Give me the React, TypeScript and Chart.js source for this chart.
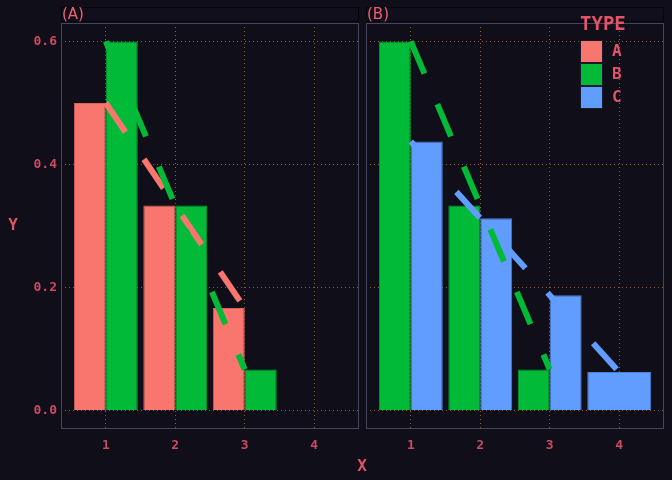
import React, { useEffect, useRef } from 'react';
import { Chart, registerables } from 'chart.js';

Chart.register(...registerables);

// ---- data ----
const X_VALUES = [1, 2, 3, 4];
const X_TICKS = [1, 2, 3, 4];
const Y_TICKS = [0, 0.2, 0.4, 0.6];
const TYPES = ['A', 'B', 'C'];
const TYPE_COLORS = ['#F8766D', '#00BA38', '#619CFF'];
const TYPE_EDGES = ['#d8645c', '#02a232', '#4c7fd6'];

const PANEL_A_TYPE_A = [0.5, 0.3333, 0.1667];
const PANEL_A_TYPE_B = [0.6, 0.3333, 0.0667];
const PANEL_B_TYPE_B = [0.6, 0.3333, 0.0667];
const PANEL_B_TYPE_C = [0.4375, 0.3125, 0.1875, 0.0625];

const PANELS = [
  { label: '(A)', series: [{ type: 'A', values: PANEL_A_TYPE_A }, { type: 'B', values: PANEL_A_TYPE_B }] },
  { label: '(B)', series: [{ type: 'B', values: PANEL_B_TYPE_B }, { type: 'C', values: PANEL_B_TYPE_C }] },
];

// ---- style ----
const BG = '#0f0e19';
const GRID = '#8a5a30';
const BORDER = '#46455f';
const TICK_COLOR = '#cc4a60';
const TITLE_COLOR = '#e25468';
const STRIP_COLOR = '#f06070';
const MONO = 'DejaVu Sans Mono';

function buildDatasets(series: { type: string; values: number[] }[]) {
  const lines: any[] = [];
  const bars: any[] = [];
  series.forEach((s) => {
    const ti = TYPES.indexOf(s.type);
    const linePts = s.values.map((v, i) => ({ x: X_VALUES[i], y: v }));
    const barPts = X_VALUES.map((x, i) => ({ x, y: i < s.values.length ? s.values[i] : null }));
    lines.push({
      type: 'line',
      label: s.type + ' line',
      data: linePts,
      borderColor: TYPE_COLORS[ti],
      borderWidth: 6,
      borderDash: [35, 33],
      borderCapStyle: 'butt',
      pointRadius: 0,
      fill: false,
      tension: 0,
      order: 2 - ti,
    });
    bars.push({
      type: 'bar',
      label: s.type,
      data: barPts,
      backgroundColor: TYPE_COLORS[ti],
      borderColor: TYPE_EDGES[ti],
      borderWidth: 1,
      categoryPercentage: 0.92,
      barPercentage: 1,
      skipNull: true,
      grouped: true,
      order: 10 + ti,
    });
  });
  return [...lines, ...bars];
}

function makeConfig(panelIndex: number) {
  const panel = PANELS[panelIndex];
  const isFirst = panelIndex === 0;
  const padding = isFirst
    ? { left: 0, top: 23, right: 672 - 359, bottom: 0 }
    : { left: 366, top: 23, right: 8, bottom: 0 };

  const decor = {
    id: 'decor' + panelIndex,
    afterDraw(chart: any) {
      const { ctx, chartArea } = chart;
      const { left, right, top, bottom } = chartArea;
      ctx.save();
      // panel border
      ctx.strokeStyle = BORDER;
      ctx.lineWidth = 1;
      ctx.setLineDash([]);
      ctx.strokeRect(left + 0.5, top + 0.5, right - left - 1, bottom - top - 1);
      // strip
      ctx.fillStyle = '#100f1b';
      ctx.fillRect(left, 7, right - left, 15);
      ctx.strokeStyle = '#05050a';
      ctx.strokeRect(left + 0.5, 7.5, right - left - 1, 14);
      ctx.fillStyle = STRIP_COLOR;
      ctx.font = '15px "DejaVu Sans"';
      ctx.textAlign = 'left';
      ctx.textBaseline = 'middle';
      ctx.fillText(panel.label, left + 1, 15);

      if (isFirst) {
        ctx.fillStyle = TITLE_COLOR;
        ctx.font = 'bold 16px "' + MONO + '"';
        ctx.textAlign = 'center';
        ctx.textBaseline = 'middle';
        ctx.fillText('Y', 13, 226);
        ctx.fillText('X', 362, 467);
      } else {
        // legend
        ctx.fillStyle = TITLE_COLOR;
        ctx.font = 'bold 19px "' + MONO + '"';
        ctx.textAlign = 'left';
        ctx.textBaseline = 'middle';
        ctx.fillText('TYPE', 580, 25);
        TYPES.forEach((t, i) => {
          const y = 40 + i * 23;
          ctx.fillStyle = TYPE_COLORS[i];
          ctx.fillRect(580, y, 23, 23);
          ctx.strokeStyle = '#1a1a2a';
          ctx.lineWidth = 1;
          ctx.strokeRect(580.5, y + 0.5, 22, 22);
          ctx.fillStyle = TITLE_COLOR;
          ctx.font = 'bold 16px "' + MONO + '"';
          ctx.fillText(t, 612, y + 12);
        });
      }
      ctx.restore();
    },
  };

  return {
    type: 'bar',
    data: { datasets: buildDatasets(panel.series) },
    options: {
      responsive: false,
      animation: false,
      events: [],
      layout: { padding },
      plugins: { legend: { display: false }, tooltip: { enabled: false }, title: { display: false } },
      scales: {
        x: {
          type: 'linear',
          min: 0.355,
          max: 4.645,
          offset: false,
          afterBuildTicks: (s: any) => { s.ticks = X_TICKS.map((v) => ({ value: v })); },
          afterFit: (s: any) => { s.height = 51; },
          ticks: {
            callback: (v: any) => String(v),
            color: TICK_COLOR,
            font: { family: MONO, size: 13, weight: 'bold' },
            padding: 9,
            maxRotation: 0,
          },
          grid: { offset: false, color: GRID, lineWidth: 1, drawTicks: false },
          border: { display: false, dash: [1, 3] },
        },
        y: {
          type: 'linear',
          min: -0.03,
          max: 0.63,
          afterBuildTicks: (s: any) => { s.ticks = Y_TICKS.map((v) => ({ value: v })); },
          afterFit: (s: any) => { s.width = isFirst ? 61 : 0; },
          ticks: {
            display: isFirst,
            callback: (v: any) => Number(v).toFixed(1),
            color: TICK_COLOR,
            font: { family: MONO, size: 13, weight: 'bold' },
            padding: 4,
          },
          grid: { color: GRID, lineWidth: 1, drawTicks: false },
          border: { display: false, dash: [1, 3] },
        },
      },
    },
    plugins: [decor],
  } as any;
}

export default function App() {
  const refA = useRef<HTMLCanvasElement>(null);
  const refB = useRef<HTMLCanvasElement>(null);

  useEffect(() => {
    document.body.style.margin = '0';
    document.body.style.background = BG;
    const a = new Chart(refA.current as HTMLCanvasElement, makeConfig(0));
    const b = new Chart(refB.current as HTMLCanvasElement, makeConfig(1));
    return () => {
      a.destroy();
      b.destroy();
    };
  }, []);

  const canvasStyle: React.CSSProperties = { position: 'absolute', left: 0, top: 0, width: 672, height: 480 };
  return (
    <div style={{ position: 'fixed', left: 0, top: 0, width: 672, height: 480, background: BG, overflow: 'hidden' }}>
      <canvas ref={refA} width={672} height={480} style={canvasStyle} />
      <canvas ref={refB} width={672} height={480} style={canvasStyle} />
    </div>
  );
}
